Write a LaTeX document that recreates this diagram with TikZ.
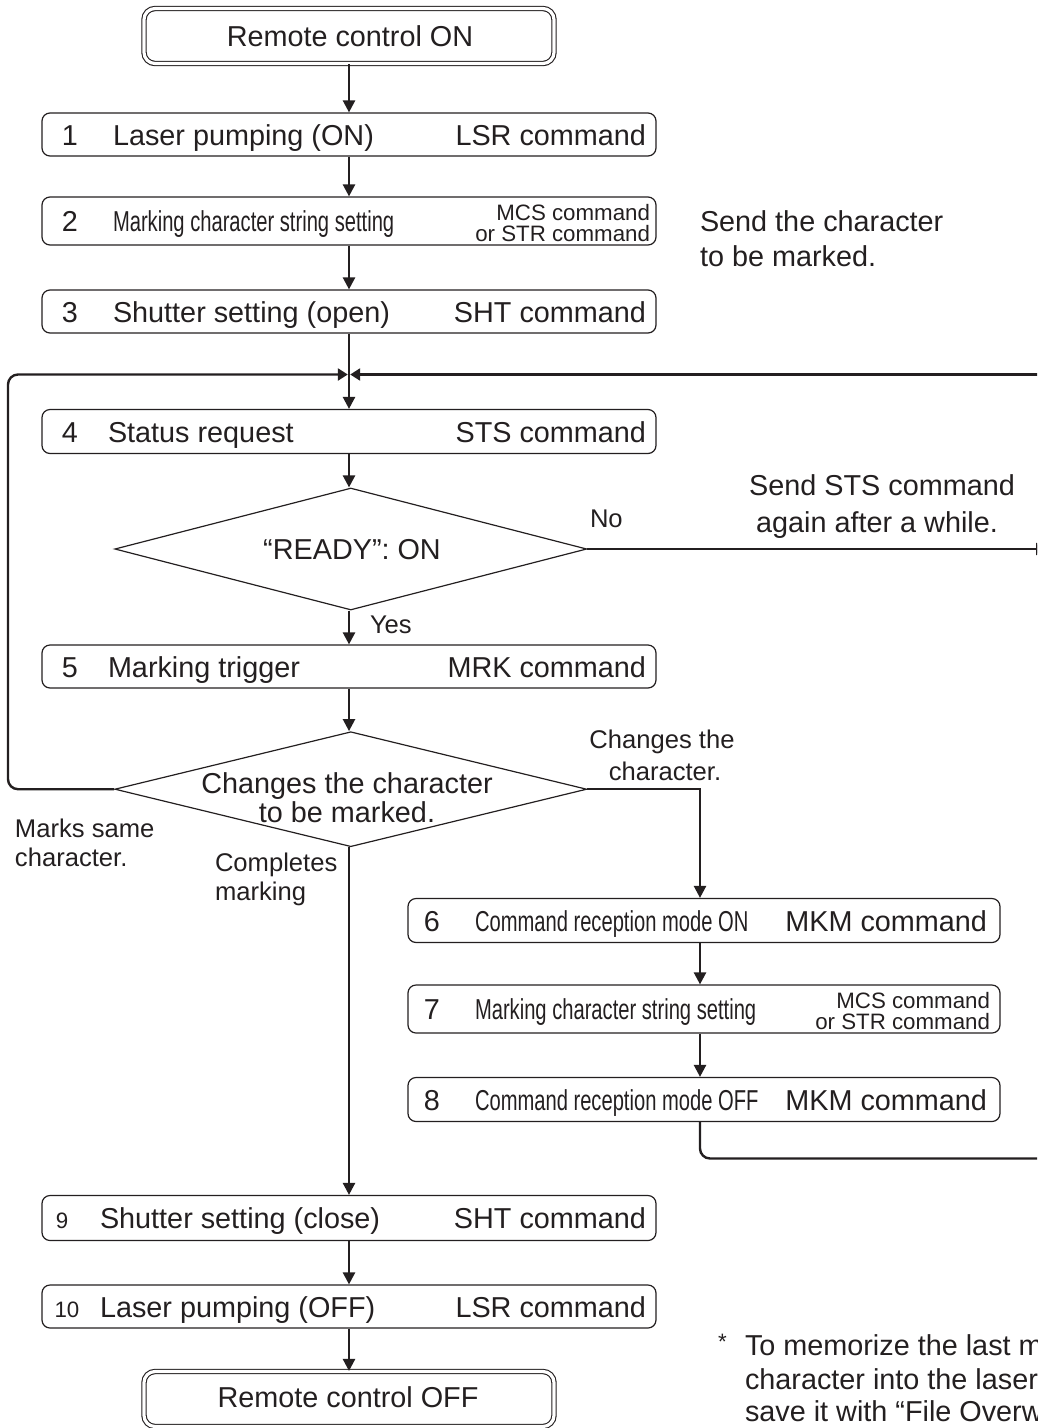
\documentclass[tikz,border=0pt]{standalone}
\usepackage{fontspec}
\usepackage{graphicx}
\setmainfont{Liberation Sans}
\usetikzlibrary{arrows.meta,shapes.geometric,calc}
\definecolor{ink}{HTML}{231F20}
% condensed face used for the long step titles
\newcommand\narrow[1]{\scalebox{0.70}[1]{#1}}

\begin{document}
\begin{tikzpicture}[x=1pt,y=-1pt,
  every node/.style={text=ink},
  lbl/.style={font=\fontsize{28.8}{34}\selectfont, inner sep=0pt, outer sep=0pt},
  side/.style={lbl, font=\fontsize{25.6}{30}\selectfont},
  small/.style={lbl, font=\fontsize{22.3}{17}\selectfont},
  stepbox/.style={draw=ink, line width=1.2pt, rounded corners=8pt, inner sep=0pt,
                  minimum width=614pt, minimum height=43pt},
  subbox/.style={stepbox, minimum width=592pt},
  termbox/.style={draw=ink, line width=1.1pt, double=white, double distance=3.2pt,
                  rounded corners=11pt, inner sep=0pt, minimum width=410pt, minimum height=55pt},
  decision/.style={diamond, draw=ink, line width=1.2pt, inner sep=0pt,
                   minimum width=472pt, minimum height=122pt},
  flow/.style={draw=ink, line width=2.4pt, -{Triangle[length=12pt,width=12pt]}},
  mergeflow/.style={draw=ink, line width=2.4pt, -{Triangle[length=10pt,width=12pt]}},
  wire/.style={draw=ink, line width=2.4pt},
]
\useasboundingbox (0,0) rectangle (1037,1428);
\clip (0,0) rectangle (1037,1428);

% ---------------- terminals ----------------
\node[termbox] (start) at (349,36) {};
\node[lbl, anchor=base] (startT) at (350,46.7) {Remote control ON};
\node[termbox] (stop) at (349,1399) {};
\node[lbl, anchor=base] (stopT) at (348,1407) {Remote control OFF};

% ---------------- main column ----------------
\node[stepbox] (b1) at (349,134.5) {};
\node[lbl, anchor=base] (b1n) at (70,145) {1};
\node[lbl, anchor=base west] (b1t) at (113,145) {Laser pumping (ON)};
\node[lbl, anchor=base east] (b1c) at (646,145) {LSR command};

\node[stepbox, minimum height=48pt] (b2) at (349,221) {};
\node[lbl, anchor=base] (b2n) at (70,231) {2};
\node[lbl, anchor=base west] (b2t) at (113,231) {\narrow{Marking character string setting}};
\node[small, anchor=base east] (b2c1) at (650,220) {MCS command};
\node[small, anchor=base east] (b2c2) at (650,241.5) {or STR command};

\node[stepbox] (b3) at (349,311.5) {};
\node[lbl, anchor=base] (b3n) at (70,322) {3};
\node[lbl, anchor=base west] (b3t) at (113,322) {Shutter setting (open)};
\node[lbl, anchor=base east] (b3c) at (646,322) {SHT command};

\coordinate (merge) at (349,374.5);

\node[stepbox, minimum height=44pt] (b4) at (349,431.5) {};
\node[lbl, anchor=base] (b4n) at (70,442) {4};
\node[lbl, anchor=base west] (b4t) at (108,442) {Status request};
\node[lbl, anchor=base east] (b4c) at (646,442) {STS command};

\node[decision] (d1) at (350.8,549) {};
\node[lbl, anchor=base] (d1t) at (352,559) {“READY”: ON};

\node[stepbox] (b5) at (349,666.5) {};
\node[lbl, anchor=base] (b5n) at (70,677) {5};
\node[lbl, anchor=base west] (b5t) at (108,677) {Marking trigger};
\node[lbl, anchor=base east] (b5c) at (646,677) {MRK command};

\node[decision, minimum height=115pt] (d2) at (350.8,789.2) {};
\node[lbl, anchor=base] (d2t1) at (347,793) {Changes the character};
\node[lbl, anchor=base] (d2t2) at (347,822) {to be marked.};

\node[stepbox, minimum height=45pt] (b9) at (349,1218) {};
\node[small, anchor=base] (b9n) at (62,1228) {9};
\node[lbl, anchor=base west] (b9t) at (100,1228) {Shutter setting (close)};
\node[lbl, anchor=base east] (b9c) at (646,1228) {SHT command};

\node[stepbox] (b10) at (349,1306.5) {};
\node[small, anchor=base] (b10n) at (67,1317) {10};
\node[lbl, anchor=base west] (b10t) at (100,1317) {Laser pumping (OFF)};
\node[lbl, anchor=base east] (b10c) at (646,1317) {LSR command};

% ---------------- character change branch ----------------
\coordinate (col2) at (700,0);

\node[subbox, minimum height=44pt] (b6) at (704,920.5) {};
\node[lbl, anchor=base] (b6n) at (432,931) {6};
\node[lbl, anchor=base west] (b6t) at (475,931) {\narrow{Command reception mode ON}};
\node[lbl, anchor=base east] (b6c) at (987,931) {MKM command};

\node[subbox, minimum height=48pt] (b7) at (704,1009) {};
\node[lbl, anchor=base] (b7n) at (432,1019) {7};
\node[lbl, anchor=base west] (b7t) at (475,1019) {\narrow{Marking character string setting}};
\node[small, anchor=base east] (b7c1) at (990,1008) {MCS command};
\node[small, anchor=base east] (b7c2) at (990,1029.5) {or STR command};

\node[subbox, minimum height=44pt] (b8) at (704,1099.5) {};
\node[lbl, anchor=base] (b8n) at (432,1110) {8};
\node[lbl, anchor=base west] (b8t) at (475,1110) {\narrow{Command reception mode OFF}};
\node[lbl, anchor=base east] (b8c) at (987,1110) {MKM command};

% ---------------- notes ----------------
\node[lbl, anchor=base west] (n1a) at (700,231) {Send the character};
\node[lbl, anchor=base west] (n1b) at (700,266) {to be marked.};
\node[lbl, anchor=base] (n2a) at (882,495) {Send STS command};
\node[lbl, anchor=base] (n2b) at (877,532) {again after a while.};
\node[side, anchor=base west] (no) at (590,527) {No};
\node[side, anchor=base west] (yes) at (370,633) {Yes};
\node[side, anchor=base] (chA) at (662,748.3) {Changes the};
\node[side, anchor=base] (chB) at (665,780) {character.};
\node[side, anchor=base west] (msA) at (15,837) {Marks same};
\node[side, anchor=base west] (msB) at (15,866.5) {character.};
\node[side, anchor=base west] (cmA) at (215,871.5) {Completes};
\node[side, anchor=base west] (cmB) at (215,900) {marking};

\node[small, anchor=base] (ast) at (722.5,1349) {*};
\node[lbl, anchor=base west] (fn1) at (745,1355) {To memorize the last marking};
\node[lbl, anchor=base west] (fn2) at (745,1389) {character into the laser marker,};
\node[lbl, anchor=base west] (fn3) at (745,1421) {save it with “File Overwrite”};

% ---------------- connectors ----------------
\draw[flow] (start) -- (b1);
\draw[flow] (b1) -- (b2);
\draw[flow] (b2) -- (b3);
\draw[flow] (b3) -- (b4);
\draw[flow] (b4.south) -- (b4.south |- d1.north);
\draw[flow] (d1.south -| b5.north) -- (b5.north);
\draw[flow] (b5.south) -- (b5.south |- d2.north);
\draw[flow] (d2.south -| b9.north) -- (b9.north);
\draw[flow] (b9) -- (b10);
\draw[flow] (b10) -- (stop);

% loop back for the same character
\draw[mergeflow, rounded corners=10pt] (d2.west) -- (8,789.2) -- (8,374.5) -- ($(merge)+(-1.2,0)$);
% return from the right side
\coordinate (retR) at (1045,374.5);
\draw[mergeflow] (retR) -- ($(merge)+(1.2,0)$);
% not ready: wait and retry
\coordinate (noEnd) at (1048,549);
\draw[flow] (d1.east) -- (noEnd);

% change of character
\draw[flow] (d2.east) -| (b6.north -| col2);
\draw[flow] (b6.south -| col2) -- (b7.north -| col2);
\draw[flow] (b7.south -| col2) -- (b8.north -| col2);
\coordinate (backR) at (1045,1158.5);
\draw[wire, rounded corners=10pt] (b8.south -| col2) |- (backR);
\end{tikzpicture}
\end{document}
